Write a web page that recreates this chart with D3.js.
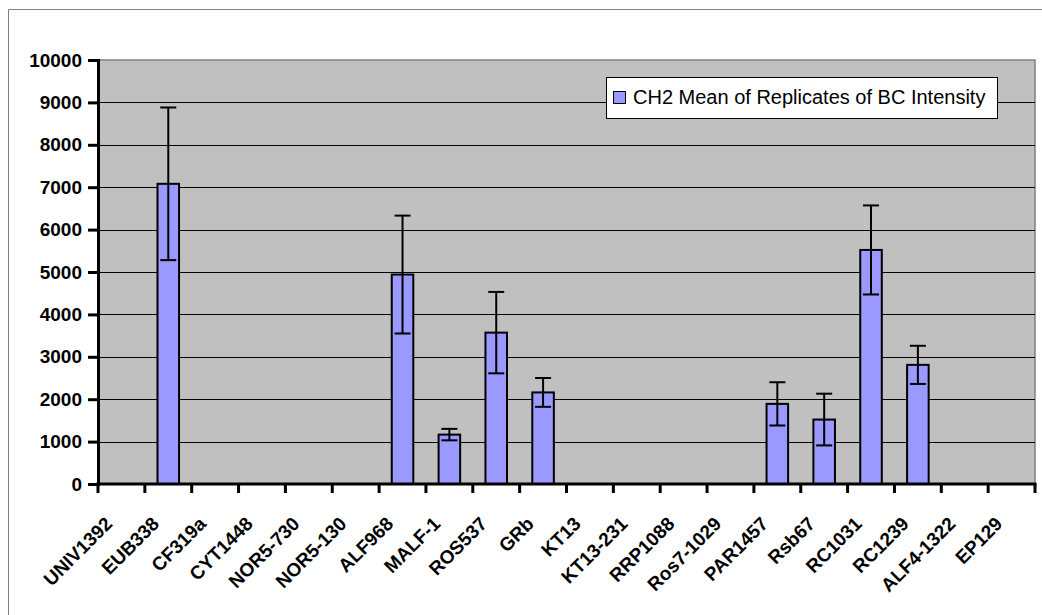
<!DOCTYPE html>
<html lang="en">
<head>
<meta charset="UTF-8">
<title>CH2 Mean of Replicates of BC Intensity</title>
<style>
body { margin: 0; background: #fff; }
text { font-family: 'Liberation Sans', Arial, sans-serif; }
.axis-label { font-weight: bold; font-size: 19px; }
</style>
</head>
<body>
<svg width="1042" height="615"></svg>
<script src="https://d3js.org/d3.v7.min.js"></script>
<script>

var probes = ["UNIV1392", "EUB338", "CF319a", "CYT1448", "NOR5-730", "NOR5-130", "ALF968", "MALF-1",
    "ROS537", "GRb", "KT13", "KT13-231", "RRP1088", "Ros7-1029", "PAR1457", "Rsb67", "RC1031",
    "RC1239", "ALF4-1322", "EP129"];
var meanIntensity = [0, 7080, 0, 0, 0, 0, 4940, 1165, 3570, 2160, 0, 0, 0, 0, 1890, 1520, 5520, 2810, 0, 0];
var errIntensity = [0, 1800, 0, 0, 0, 0, 1390, 135, 960, 340, 0, 0, 0, 0, 510, 610, 1050, 450, 0, 0];
var yTicks = [0, 1000, 2000, 3000, 4000, 5000, 6000, 7000, 8000, 9000, 10000];
var seriesName = "CH2 Mean of Replicates of BC Intensity";

var translate = function(left, top) {
    return "translate(" + left + "," + top + ")";
};

var svg = d3.select("svg");
var plot = {left: 98, top: 60, right: 1035, bottom: 484};

// outer chart border (cropped on right and bottom in the original)
svg.append("path")
    .attr("d", "M8.5,615 V9.5 H1042")
    .attr("fill", "none")
    .attr("stroke", "#7f7f7f")
    .attr("stroke-width", 1);

var x = d3.scaleBand().domain(probes).range([plot.left, plot.right]);
var y = d3.scaleLinear().domain([0, 10000]).range([plot.bottom, plot.top]);

svg.append("rect")
    .attr("x", plot.left)
    .attr("y", plot.top)
    .attr("width", plot.right - plot.left)
    .attr("height", plot.bottom - plot.top)
    .attr("fill", "#c0c0c0")
    .attr("stroke", "#808080")
    .attr("stroke-width", 1.5);

// gridlines
svg.append("g").selectAll("line")
    .data(yTicks.slice(1, -1))
    .enter().append("line")
    .attr("x1", plot.left)
    .attr("x2", plot.right)
    .attr("y1", function(d) { return Math.round(y(d)) + 0.5; })
    .attr("y2", function(d) { return Math.round(y(d)) + 0.5; })
    .attr("stroke", "#000")
    .attr("stroke-width", 1);

var barWidth = x.bandwidth() * 0.46;
var data = probes.map(function(p, i) {
    return {probe: p, value: meanIntensity[i], err: errIntensity[i]};
}).filter(function(d) { return d.value > 0; });

var bars = svg.append("g").selectAll("g")
    .data(data)
    .enter().append("g")
    .attr("transform", function(d) { return translate(x(d.probe) + x.bandwidth() / 2, 0); });

bars.append("rect")
    .attr("x", -barWidth / 2)
    .attr("y", function(d) { return y(d.value); })
    .attr("width", barWidth)
    .attr("height", function(d) { return plot.bottom - y(d.value); })
    .attr("fill", "#9999ff")
    .attr("stroke", "#000")
    .attr("stroke-width", 2);

var capHalf = 8;
bars.append("line")
    .attr("x1", 0).attr("x2", 0)
    .attr("y1", function(d) { return y(d.value + d.err); })
    .attr("y2", function(d) { return y(d.value - d.err); })
    .attr("stroke", "#000").attr("stroke-width", 2);
bars.append("line")
    .attr("x1", -capHalf).attr("x2", capHalf)
    .attr("y1", function(d) { return y(d.value + d.err); })
    .attr("y2", function(d) { return y(d.value + d.err); })
    .attr("stroke", "#000").attr("stroke-width", 2);
bars.append("line")
    .attr("x1", -capHalf).attr("x2", capHalf)
    .attr("y1", function(d) { return y(d.value - d.err); })
    .attr("y2", function(d) { return y(d.value - d.err); })
    .attr("stroke", "#000").attr("stroke-width", 2);

// y axis
var yAxis = d3.axisLeft(y).tickValues(yTicks).tickSize(10).tickPadding(6).tickFormat(d3.format("d"));
var yG = svg.append("g")
    .attr("transform", translate(plot.left, 0))
    .call(yAxis);
yG.select(".domain").attr("stroke", "#000").attr("stroke-width", 3);
yG.selectAll(".tick line").attr("stroke", "#000").attr("stroke-width", 3);
yG.selectAll(".tick text")
    .attr("class", "axis-label")
    .attr("fill", "#000")
    .attr("font-family", null)
    .attr("font-size", null);

// x axis: ticks on category boundaries
var boundaries = probes.map(function(p) { return x(p); }).concat([plot.right]);
var xG = svg.append("g");
xG.append("line")
    .attr("x1", plot.left - 1.5).attr("x2", plot.right + 1.5)
    .attr("y1", plot.bottom).attr("y2", plot.bottom)
    .attr("stroke", "#000").attr("stroke-width", 3);
xG.selectAll(".xtick")
    .data(boundaries)
    .enter().append("line")
    .attr("class", "xtick")
    .attr("x1", function(d) { return d; })
    .attr("x2", function(d) { return d; })
    .attr("y1", plot.bottom)
    .attr("y2", plot.bottom + 9)
    .attr("stroke", "#000").attr("stroke-width", 3);

xG.selectAll(".xlabel")
    .data(probes)
    .enter().append("text")
    .attr("class", "axis-label xlabel")
    .attr("text-anchor", "end")
    .attr("transform", function(d) {
        return translate(x(d) + x.bandwidth() / 2 - 8, plot.bottom + 41) + " rotate(-45)";
    })
    .text(function(d) { return d; });

// legend
var legend = svg.append("g").attr("transform", translate(606, 77));
legend.append("rect")
    .attr("x", 0.5).attr("y", 0.5)
    .attr("width", 391).attr("height", 41)
    .attr("fill", "#fff")
    .attr("stroke", "#000")
    .attr("stroke-width", 1);
legend.append("rect")
    .attr("x", 7.5).attr("y", 14.5)
    .attr("width", 12).attr("height", 12)
    .attr("fill", "#9999ff")
    .attr("stroke", "#000")
    .attr("stroke-width", 1);
legend.append("text")
    .attr("x", 27)
    .attr("y", 27)
    .attr("font-size", "20px")
    .text(seriesName);

</script>
</body>
</html>
